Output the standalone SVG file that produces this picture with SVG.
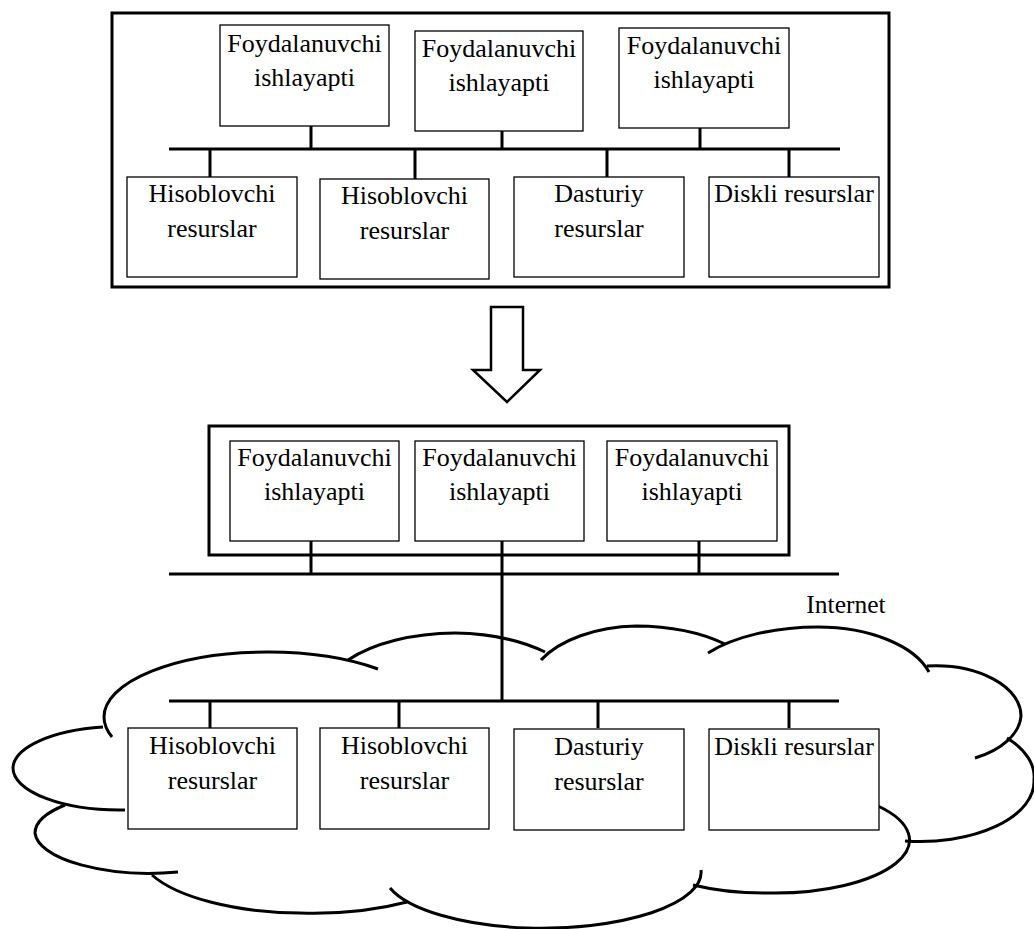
<svg xmlns="http://www.w3.org/2000/svg" width="1034" height="929" viewBox="0 0 1034 929">
<style>
  .frame{fill:none;stroke:#000;stroke-width:3}
  .box{fill:#fff;stroke:#000;stroke-width:1.3}
  .bus{stroke:#000;stroke-width:3;fill:none}
  .cloud{fill:none;stroke:#000;stroke-width:3}
  .t{font-family:"Liberation Serif","Times New Roman",serif;font-size:26px;fill:#000;text-anchor:middle}
</style>
<rect width="1034" height="929" fill="#fff"/>

<g id="cloud">
  <path class="cloud" d="M 378 669 A 163 65 0 0 0 267 652 A 163 65 0 0 0 104 717 A 163 65 0 0 0 112 737"/>
  <path class="cloud" d="M 103 727 A 107 42 0 0 0 13 768 A 107 42 0 0 0 125 810"/>
  <path class="cloud" d="M 65 805 A 115 42 0 0 0 35 833 A 115 42 0 0 0 178 872"/>
  <path class="cloud" d="M 152 875 A 165 63 0 0 0 300 913 A 165 63 0 0 0 407 902"/>
  <path class="cloud" d="M 390 888 A 160 56 0 0 0 527 928 A 160 56 0 0 0 701 870"/>
  <path class="cloud" d="M 693 885 A 135 53 0 0 0 770 893 A 135 53 0 0 0 878 806"/>
  <path class="cloud" d="M 1007 738 A 114 60 0 0 1 1034 780 A 114 60 0 0 1 905 841"/>
  <path class="cloud" d="M 927 666 A 86 50 0 0 1 1021 716 A 86 50 0 0 1 975 758"/>
  <path class="cloud" d="M 708 653 A 136 63 0 0 1 818 627 A 116 63 0 0 1 929 672"/>
  <path class="cloud" d="M 541 660 A 112 64 0 0 1 636 626 A 130 64 0 0 1 725 644"/>
  <path class="cloud" d="M 348 660 A 135 67 0 0 1 455 633 A 135 67 0 0 1 545 652"/>
  <text class="t" x="846" y="613" style="font-size:25.5px">Internet</text>
</g>

<g id="top-frame"><rect class="frame" x="112" y="13" width="777" height="274"/></g>
<g id="mid-frame"><rect class="frame" x="209" y="426" width="580" height="129"/></g>

<g id="connectors">
  <line class="bus" x1="169" y1="149" x2="840" y2="149"/>
  <line class="bus" x1="311" y1="126" x2="311" y2="149"/>
  <line class="bus" x1="502" y1="131" x2="502" y2="149"/>
  <line class="bus" x1="700" y1="128" x2="700" y2="149"/>
  <line class="bus" x1="210" y1="149" x2="210" y2="177"/>
  <line class="bus" x1="415" y1="149" x2="415" y2="179"/>
  <line class="bus" x1="607" y1="149" x2="607" y2="177"/>
  <line class="bus" x1="789" y1="149" x2="789" y2="177"/>

  <line class="bus" x1="169" y1="574" x2="839" y2="574"/>
  <line class="bus" x1="311" y1="541" x2="311" y2="574"/>
  <line class="bus" x1="502" y1="541" x2="502" y2="701"/>
  <line class="bus" x1="699" y1="541" x2="699" y2="574"/>

  <line class="bus" x1="169" y1="701" x2="839" y2="701"/>
  <line class="bus" x1="210" y1="701" x2="210" y2="728"/>
  <line class="bus" x1="399" y1="701" x2="399" y2="728"/>
  <line class="bus" x1="598" y1="701" x2="598" y2="728"/>
  <line class="bus" x1="789" y1="701" x2="789" y2="728"/>
</g>

<g id="arrow">
  <polygon points="491,307 523,307 523,370 540,370 507,402 473,370 491,370" fill="#fff" stroke="#000" stroke-width="2.5"/>
</g>

<g id="top-user-1"><rect class="box" x="220" y="25" width="169" height="101"/><text class="t" x="304.5" y="52">Foydalanuvchi</text><text class="t" x="304.5" y="86">ishlayapti</text></g>
<g id="top-user-2"><rect class="box" x="415" y="31" width="168" height="100"/><text class="t" x="499" y="57">Foydalanuvchi</text><text class="t" x="499" y="91">ishlayapti</text></g>
<g id="top-user-3"><rect class="box" x="619" y="28" width="170" height="100"/><text class="t" x="704" y="54">Foydalanuvchi</text><text class="t" x="704" y="88">ishlayapti</text></g>

<g id="top-res-1"><rect class="box" x="127" y="177" width="170" height="100"/><text class="t" x="212" y="202">Hisoblovchi</text><text class="t" x="212" y="237">resurslar</text></g>
<g id="top-res-2"><rect class="box" x="320" y="179" width="169" height="100"/><text class="t" x="404.5" y="204">Hisoblovchi</text><text class="t" x="404.5" y="239">resurslar</text></g>
<g id="top-res-3"><rect class="box" x="514" y="177" width="170" height="100"/><text class="t" x="599" y="202">Dasturiy</text><text class="t" x="599" y="237">resurslar</text></g>
<g id="top-res-4"><rect class="box" x="709" y="177" width="170" height="100"/><text class="t" x="794" y="202">Diskli resurslar</text></g>

<g id="mid-user-1"><rect class="box" x="230" y="441" width="169" height="100"/><text class="t" x="314.5" y="466">Foydalanuvchi</text><text class="t" x="314.5" y="500">ishlayapti</text></g>
<g id="mid-user-2"><rect class="box" x="415" y="441" width="169" height="100"/><text class="t" x="499.5" y="466">Foydalanuvchi</text><text class="t" x="499.5" y="500">ishlayapti</text></g>
<g id="mid-user-3"><rect class="box" x="607" y="441" width="170" height="100"/><text class="t" x="692" y="466">Foydalanuvchi</text><text class="t" x="692" y="500">ishlayapti</text></g>

<g id="net-res-1"><rect class="box" x="128" y="728" width="169" height="101"/><text class="t" x="212.5" y="754">Hisoblovchi</text><text class="t" x="212.5" y="789">resurslar</text></g>
<g id="net-res-2"><rect class="box" x="320" y="728" width="169" height="101"/><text class="t" x="404.5" y="754">Hisoblovchi</text><text class="t" x="404.5" y="789">resurslar</text></g>
<g id="net-res-3"><rect class="box" x="514" y="729" width="170" height="101"/><text class="t" x="599" y="755">Dasturiy</text><text class="t" x="599" y="790">resurslar</text></g>
<g id="net-res-4"><rect class="box" x="709" y="729" width="170" height="101"/><text class="t" x="794" y="755">Diskli resurslar</text></g>
</svg>
